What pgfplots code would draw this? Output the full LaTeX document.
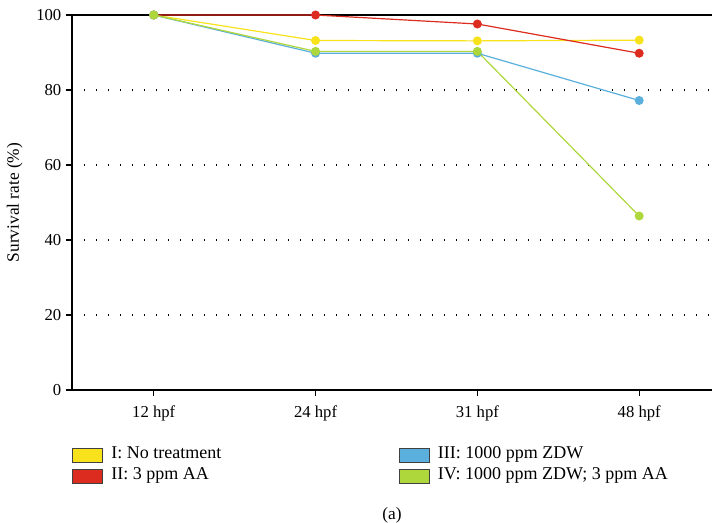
\documentclass[border=0pt]{standalone}
\usepackage{fontspec}
\setmainfont{Liberation Serif}
\usepackage{pgfplots}
\pgfplotsset{compat=1.18}

\definecolor{cI}{HTML}{F7E21B}
\definecolor{cII}{HTML}{DC2B1F}
\definecolor{cIII}{HTML}{5AAFDC}
\definecolor{cIV}{HTML}{AED73C}

\pgfplotsset{
  sq/.style={legend image code/.code={
    \draw[fill=#1, draw=black!75, line width=0.6pt] (0pt,-5.25pt) rectangle (22.5pt,5.25pt);}},
  ser/.style={#1, line width=0.9pt, mark=*, mark size=2.9pt, mark options={solid, fill=#1, draw=#1}},
}

\begin{document}
\begin{tikzpicture}
\useasboundingbox (-54pt,-99pt) rectangle (480pt,292.5pt);
\begin{axis}[
  scale only axis, width=480pt, height=281.25pt,
  xmin=-0.505, xmax=3.45, ymin=0, ymax=100,
  axis lines=left, axis line style={-, line width=0.9pt, black},
  xtick={0,1,2,3}, xticklabels={12 hpf,24 hpf,31 hpf,48 hpf},
  ytick={0,20,40,60,80},
  extra y ticks={100},
  extra y tick style={grid=major, major grid style={solid, black, line width=0.9pt}},
  ymajorgrids, major grid style={black, line width=0.8pt, dash pattern=on 0.7pt off 8.3pt},
  tick align=outside, tick style={black, line width=0.8pt}, major tick length=4.5pt,
  /pgf/number format/assume math mode=true,
  tick label style={font=\fontsize{12.5}{14}\selectfont},
  xticklabel style={yshift=-3.5pt},
  ylabel={Survival rate (\%)},
  ylabel style={font=\fontsize{13}{15}\selectfont, at={(axis description cs:-0.07,0.5)}},
  clip=false,
  legend columns=2,
  legend style={draw=none, at={(axis description cs:0,-0.154)}, anchor=north west,
    inner sep=0pt, outer sep=0pt, row sep=4.5pt,
    font=\fontsize{13.5}{15}\selectfont,
    nodes={inner sep=0pt, text height=8pt, text depth=2.5pt, anchor=west},
    /tikz/every odd column/.append style={column sep=6.4pt},
    /tikz/column 2/.append style={column sep=133pt}},
  legend cell align=left,
]
\addplot[ser=cI, forget plot] coordinates {(0,100) (1,93.2) (2,93.1) (3,93.3)};
\addplot[ser=cII, forget plot] coordinates {(0,100) (1,100) (2,97.6) (3,89.8)};
\addplot[ser=cIII, forget plot] coordinates {(0,100) (1,89.8) (2,89.8) (3,77.2)};
\addplot[ser=cIV, forget plot] coordinates {(0,100) (1,90.3) (2,90.3) (3,46.4)};
\addlegendimage{sq=cI}\addlegendentry{I: No treatment}
\addlegendimage{sq=cIII}\addlegendentry{III: 1000 ppm ZDW}
\addlegendimage{sq=cII}\addlegendentry{II: 3 ppm AA}
\addlegendimage{sq=cIV}\addlegendentry{IV: 1000 ppm ZDW; 3 ppm AA}
\node[font=\fontsize{13}{15}\selectfont] at (axis description cs:0.5,-0.333) {(a)};
\end{axis}
\end{tikzpicture}
\end{document}
